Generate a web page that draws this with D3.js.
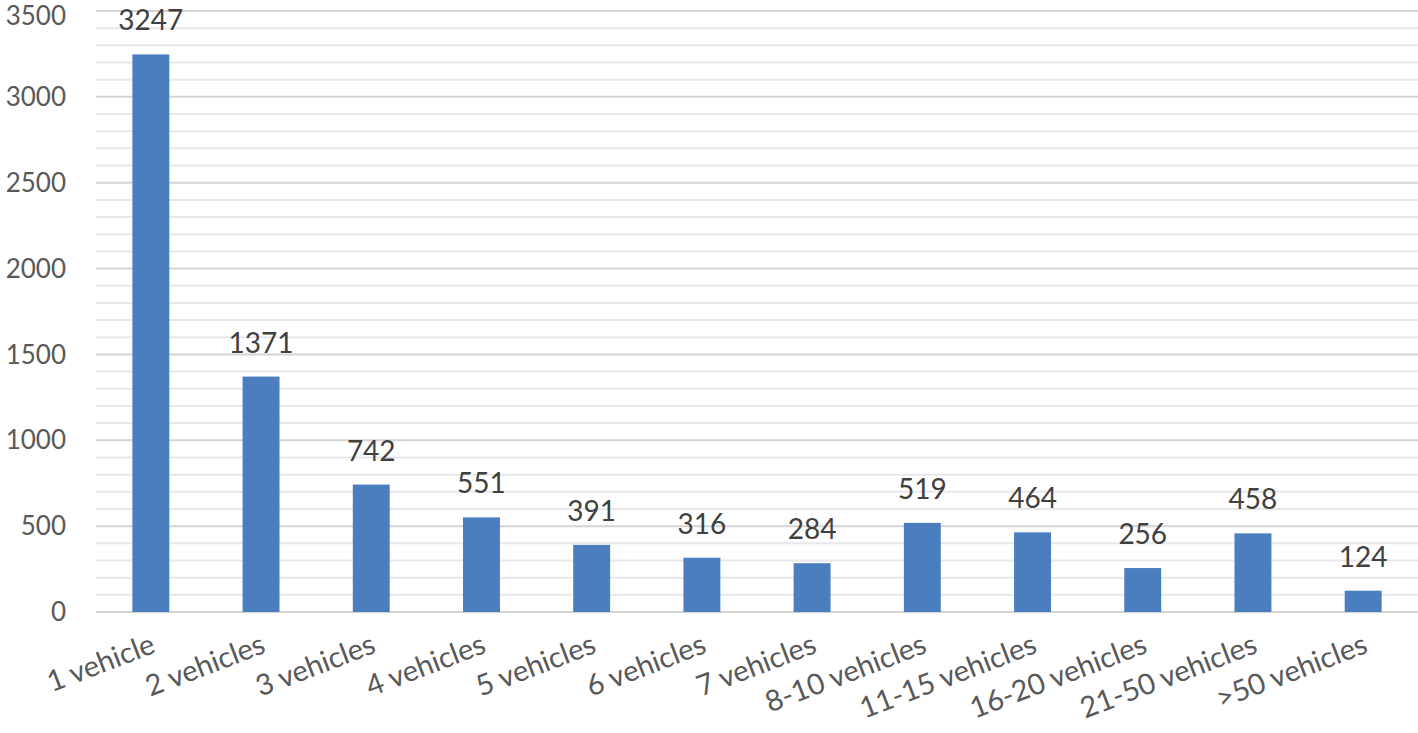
<!DOCTYPE html>
<html>
<head>
<meta charset="utf-8">
<script src="https://cdn.jsdelivr.net/npm/d3@7"></script>
<style>
  body { margin: 0; background: #fff; }
  svg text { font-family: Lato, "Open Sans", sans-serif; }
</style>
</head>
<body>
<div id="chart"></div>
<script>
const categories = ['1 vehicle', '2 vehicles', '3 vehicles', '4 vehicles', '5 vehicles', '6 vehicles',
  '7 vehicles', '8-10 vehicles', '11-15 vehicles', '16-20 vehicles', '21-50 vehicles', '>50 vehicles'];
const counts = [3247, 1371, 742, 551, 391, 316, 284, 519, 464, 256, 458, 124];
const yTicks = [0, 500, 1000, 1500, 2000, 2500, 3000, 3500];

const width = 1418, height = 733;
const svg = d3.select('#chart').append('svg')
  .attr('width', width)
  .attr('height', height);

const x = d3.scaleBand()
  .domain(categories)
  .range([96, 1418])
  .paddingInner(0.665)
  .paddingOuter(0.33);

const y = d3.scaleLinear()
  .domain([0, 3500])
  .range([612, 11]);

// minor gridlines every 100
svg.append('g')
  .selectAll('line')
  .data(d3.range(100, 3500, 100).filter(v => v % 500 !== 0))
  .enter().append('line')
  .attr('x1', 96).attr('x2', 1418)
  .attr('y1', d => y(d)).attr('y2', d => y(d))
  .attr('stroke', '#e8e8ec')
  .attr('stroke-width', 2);

// major gridlines
svg.append('g')
  .selectAll('line')
  .data(yTicks)
  .enter().append('line')
  .attr('x1', 96).attr('x2', 1418)
  .attr('y1', d => y(d)).attr('y2', d => y(d))
  .attr('stroke', '#d4d4d4')
  .attr('stroke-width', 2);

// y axis labels (top one nudged down so it stays inside the frame)
svg.append('g')
  .selectAll('text')
  .data(yTicks)
  .enter().append('text')
  .attr('x', 66)
  .attr('y', d => Math.max(y(d), 16))
  .attr('dy', '0.35em')
  .style('text-anchor', 'end')
  .style('font-size', '26px')
  .attr('fill', '#595959')
  .text(d => d);

// bars
svg.append('g')
  .selectAll('rect')
  .data(counts)
  .enter().append('rect')
  .attr('x', (d, i) => x(categories[i]))
  .attr('y', d => y(d))
  .attr('width', x.bandwidth())
  .attr('height', d => y(0) - y(d))
  .attr('fill', '#4a7ebf');

// value labels
svg.append('g')
  .selectAll('text')
  .data(counts)
  .enter().append('text')
  .attr('x', (d, i) => x(categories[i]) + x.bandwidth() / 2)
  .attr('y', d => y(d) - 24)
  .style('text-anchor', 'middle')
  .style('font-size', '28px')
  .attr('fill', '#404040')
  .text(d => d);

// category labels, rotated
svg.append('g')
  .selectAll('text')
  .data(categories)
  .enter().append('text')
  .attr('transform', d => `translate(${x(d) + x.bandwidth() / 2 + 6},${652}) rotate(-21)`)
  .style('text-anchor', 'end')
  .style('font-size', '29px')
  .attr('fill', '#595959')
  .text(d => d);
</script>
</body>
</html>
